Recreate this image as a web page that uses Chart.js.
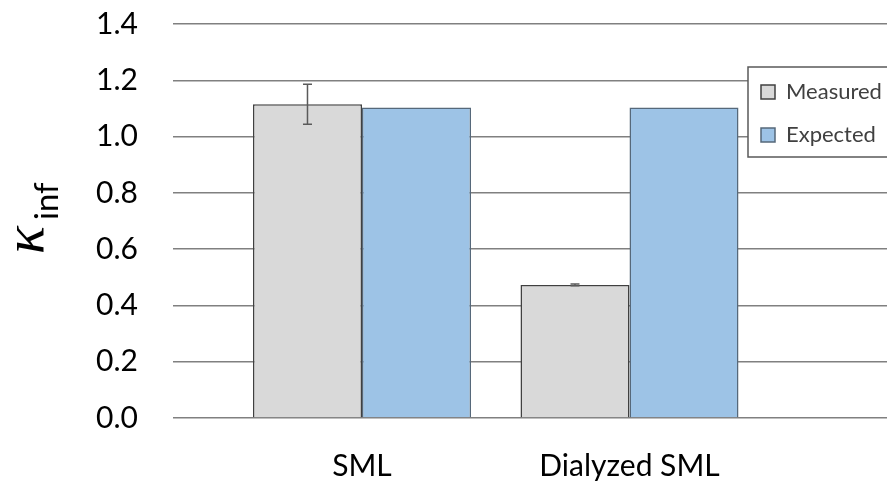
<!DOCTYPE html>
<html>
<head>
<meta charset="utf-8">
<script src="https://cdn.jsdelivr.net/npm/chart.js@4/dist/chart.umd.min.js"></script>
<style>
  html, body { margin: 0; padding: 0; background: #fff; }
  #wrap { width: 887px; height: 481px; position: relative; }
</style>
</head>
<body>
<div id="wrap"><canvas id="c" width="887" height="481"></canvas></div>
<script>
// ---- data ----
const categories = ['SML', 'Dialyzed SML'];
const seriesNames = ['Measured', 'Expected'];
const measured = [1.115, 0.473];
const measuredErr = [0.071, 0.003];
const expected = [1.103, 1.103];
const yTickLabels = ['0.0', '0.2', '0.4', '0.6', '0.8', '1.0', '1.2', '1.4'];

const FONT = 'Lato, "Open Sans", sans-serif';

const errorBars = {
  id: 'errorBars',
  afterDatasetsDraw(chart) {
    const meta = chart.getDatasetMeta(0);
    const ys = chart.scales.y;
    const ctx = chart.ctx;
    ctx.save();
    ctx.strokeStyle = '#5a5a5a';
    ctx.lineWidth = 1.5;
    meta.data.forEach((el, i) => {
      const x = el.x;
      const t = ys.getPixelForValue(measured[i] + measuredErr[i]);
      const b = ys.getPixelForValue(measured[i] - measuredErr[i]);
      ctx.beginPath();
      ctx.moveTo(x, t); ctx.lineTo(x, b);
      ctx.moveTo(x - 4.5, t); ctx.lineTo(x + 4.5, t);
      ctx.moveTo(x - 4.5, b); ctx.lineTo(x + 4.5, b);
      ctx.stroke();
    });
    ctx.restore();
  }
};

const axisTitle = {
  id: 'axisTitle',
  afterDraw(chart) {
    const ctx = chart.ctx;
    ctx.save();
    ctx.fillStyle = '#000';
    ctx.textAlign = 'center';
    ctx.textBaseline = 'alphabetic';
    ctx.translate(43, 240);
    ctx.rotate(-Math.PI / 2);
    ctx.font = 'italic 58px "Liberation Serif", serif';
    ctx.fillText('\u03BA', 0, 0);
    ctx.restore();
    ctx.save();
    ctx.fillStyle = '#000';
    ctx.textAlign = 'left';
    ctx.textBaseline = 'alphabetic';
    ctx.translate(58, 220);
    ctx.rotate(-Math.PI / 2);
    ctx.font = '33px ' + FONT;
    ctx.fillText('inf', 0, 0);
    ctx.restore();
  }
};

const legendPlacer = {
  id: 'legendPlacer',
  afterLayout(chart) {
    const lg = chart.legend;
    if (!lg) return;
    lg.left = 740; lg.top = 60; lg.right = 887; lg.bottom = 170;
    lg.width = lg.right - lg.left; lg.height = lg.bottom - lg.top;
  },
  afterDraw(chart) {
    const ctx = chart.ctx;
    ctx.save();
    ctx.fillStyle = '#fff';
    ctx.strokeStyle = '#595959';
    ctx.lineWidth = 1.5;
    ctx.fillRect(748, 67, 145, 90);
    ctx.strokeRect(748, 67, 145, 90);
    ctx.restore();
    chart.legend.draw();
  }
};

new Chart(document.getElementById('c'), {
  type: 'bar',
  data: {
    datasets: [
      {
        label: seriesNames[0],
        data: measured.map((v, i) => ({ x: i, y: v })),
        backgroundColor: '#d9d9d9',
        borderColor: '#404040',
        borderWidth: 1.5
      },
      {
        label: seriesNames[1],
        data: expected.map((v, i) => ({ x: i, y: v })),
        backgroundColor: '#9dc3e6',
        borderColor: '#56687a',
        borderWidth: 1.5
      }
    ]
  },
  options: {
    responsive: false,
    animation: false,
    devicePixelRatio: 1,
    layout: { padding: { top: 24, left: 0, right: 0, bottom: 0 } },
    datasets: { bar: { categoryPercentage: 0.815, barPercentage: 1.0 } },
    scales: {
      x: {
        type: 'linear',
        offset: false,
        min: -0.7065,
        max: 1.9626,
        grid: { display: false, offset: false },
        border: { display: false },
        afterBuildTicks(scale) {
          scale.ticks = categories.map((c, i) => ({ value: i }));
        },
        afterFit(scale) { scale.height = 63; },
        ticks: {
          autoSkip: false,
          maxRotation: 0,
          padding: 22,
          color: '#000',
          font: { family: FONT, size: 30 },
          callback: (v) => categories[v]
        }
      },
      y: {
        min: 0,
        max: 1.4,
        afterBuildTicks(scale) {
          scale.ticks = yTickLabels.map((t) => ({ value: parseFloat(t) }));
        },
        afterFit(scale) {
          scale.width = 173;
          scale.paddingTop = 0;
          scale.paddingBottom = 0;
        },
        grid: { color: '#808080', lineWidth: 1.5, drawTicks: false },
        border: { display: false },
        ticks: {
          padding: 35,
          color: '#000',
          font: { family: FONT, size: 30 },
          callback: (v, i) => yTickLabels[i]
        }
      }
    },
    plugins: {
      legend: {
        position: 'chartArea',
        fullSize: false,
        align: 'start',
        labels: {
          boxWidth: 14,
          boxHeight: 14,
          padding: 21,
          color: '#404040',
          font: { family: FONT, size: 22 }
        }
      },
      tooltip: { enabled: false }
    }
  },
  plugins: [errorBars, axisTitle, legendPlacer]
});
</script>
</body>
</html>
